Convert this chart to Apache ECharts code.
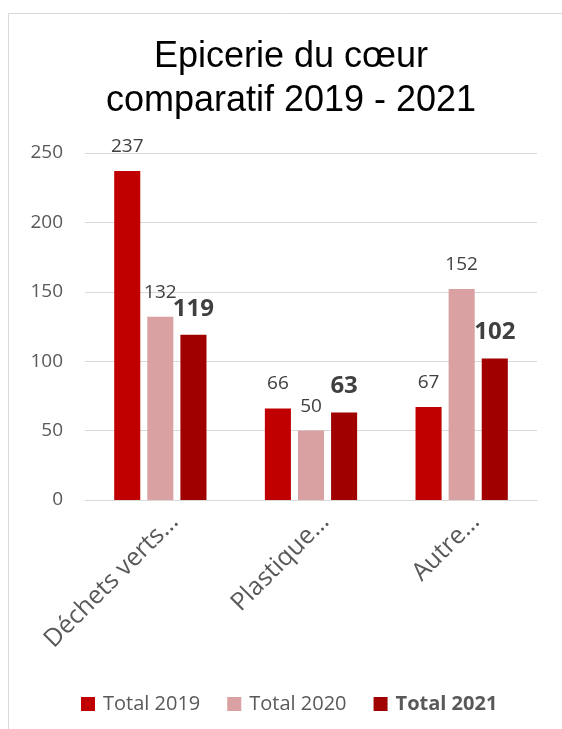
<!DOCTYPE html>
<html>
<head>
<meta charset="utf-8">
<script src="https://cdn.jsdelivr.net/npm/echarts@6/dist/echarts.min.js"></script>
<style>html,body{margin:0;padding:0;background:#fff}#c{width:562px;height:729px}</style>
</head>
<body>
<div id="c"></div>
<script>
const categories = ['Déchets verts…', 'Plastique…', 'Autre…'];
const seriesNames = ['Total 2019', 'Total 2020', 'Total 2021'];
const total2019 = [237, 66, 67];
const total2020 = [132, 50, 152];
const total2021 = [119, 63, 102];
const yTicks = [0, 50, 100, 150, 200, 250];

const font = 'Open Sans, Noto Sans, sans-serif';
const txt = '#595959';
const chart = echarts.init(document.getElementById('c'));
const normalLabel = {show: true, position: 'top', distance: 15, color: '#404040', fontFamily: font, fontSize: 19};
const boldLabel = {show: true, position: 'top', distance: 14, color: '#404040', fontFamily: font, fontSize: 24, fontWeight: 'bold'};
chart.setOption({
  animation: false,
  graphic: [{type: 'rect', shape: {x: 8.5, y: 13.5, width: 700, height: 900}, style: {fill: 'none', stroke: '#d9d9d9', lineWidth: 1}, silent: true}],
  title: {
    text: 'Epicerie du cœur\ncomparatif 2019 - 2021',
    left: 286, top: 30, textAlign: 'center',
    textStyle: {fontFamily: 'Liberation Sans, Arial, sans-serif', fontSize: 36, fontWeight: 'normal', color: '#000', lineHeight: 44}
  },
  legend: {
    top: 689, left: 76, itemWidth: 14, itemHeight: 14, itemGap: 27,
    icon: 'rect',
    textStyle: {fontFamily: font, fontSize: 20, color: txt, padding: [0, 0, 0, 3]},
    data: [
      {name: seriesNames[0]},
      {name: seriesNames[1]},
      {name: seriesNames[2], textStyle: {fontWeight: 'bold'}}
    ]
  },
  grid: {left: 85, right: 25, top: 153, bottom: 229},
  xAxis: {
    type: 'category', data: categories,
    axisLine: {show: true, lineStyle: {color: '#d9d9d9'}},
    axisTick: {show: false},
    axisLabel: {rotate: 45, color: txt, fontFamily: font, fontSize: 25, margin: 32, padding: [0, -20, 0, 0]}
  },
  yAxis: {
    type: 'value', min: 0, max: 250, interval: 50,
    axisLine: {show: false}, axisTick: {show: false},
    splitLine: {lineStyle: {color: '#d9d9d9'}},
    axisLabel: {color: txt, fontFamily: font, fontSize: 19, margin: 22,
      formatter: v => yTicks.includes(v) ? String(v) : ''}
  },
  series: [
    {name: seriesNames[0], type: 'bar', data: total2019, barWidth: '17.3%', barGap: '27%', itemStyle: {color: '#C00000'}, label: normalLabel},
    {name: seriesNames[1], type: 'bar', data: total2020, barWidth: '17.3%', barGap: '27%', itemStyle: {color: '#D9A1A1'}, label: normalLabel},
    {name: seriesNames[2], type: 'bar', data: total2021, barWidth: '17.3%', barGap: '27%', itemStyle: {color: '#A00000'}, label: boldLabel}
  ]
});
</script>
</body>
</html>
